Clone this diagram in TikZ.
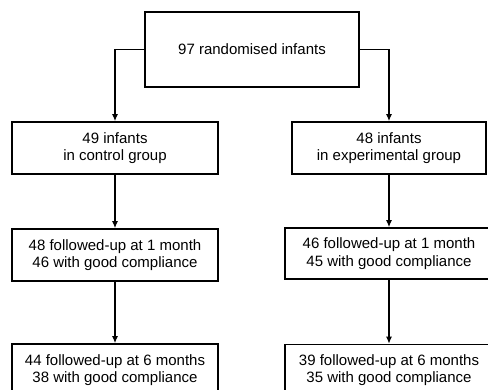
\documentclass[tikz,border=0pt]{standalone}
\usepackage{fontspec}
\setmainfont{Liberation Sans}
\usetikzlibrary{positioning, arrows.meta}
\tikzstyle{block} = [rectangle, draw, line width=1.6pt, fill=white,
                 align=center, inner sep=0pt,
                 font=\fontsize{15}{17.5}\selectfont]
\tikzstyle{branch} = [line width=1.2pt, draw, -{Latex[length=7pt,width=6pt]}]
\tikzset{
	leftbox/.style={block, minimum width=206pt, minimum height=52pt},
	rightbox/.style={block, minimum width=208pt, minimum height=51pt},
}

\begin{document}
\begin{tikzpicture}[x=1pt,y=-1pt]

\useasboundingbox (0,0) rectangle (488,389);
\clip (0,0) rectangle (488,389);

\node [block, minimum width=214pt, minimum height=75pt] at (252,49.5) (rand) {97 randomised infants};

\node [leftbox] at (115,148) (ctrl) {49 infants\\in control group};
\node [block, minimum width=194pt, minimum height=52pt] at (389,148) (expt) {48 infants\\in experimental group};

\node [leftbox] at (115,255) (ctrlone) {48 followed-up at 1 month\\46 with good compliance};
\node [rightbox] at (389,253.5) (exptone) {46 followed-up at 1 month\\45 with good compliance};

\node [leftbox] at (115,370) (ctrlsix) {44 followed-up at 6 months\\38 with good compliance};
\node [rightbox] at (389,370) (exptsix) {39 followed-up at 6 months\\35 with good compliance};

\path [branch] (rand.west) -| (ctrl.north);
\path [branch] (rand.east) -| (expt.north);
\path [branch] (ctrl.south) -- (ctrlone.north);
\path [branch] (expt.south) -- (exptone.north);
\path [branch] (ctrlone.south) -- (ctrlsix.north);
\path [branch] (exptone.south) -- (exptsix.north);

\end{tikzpicture}
\end{document}
